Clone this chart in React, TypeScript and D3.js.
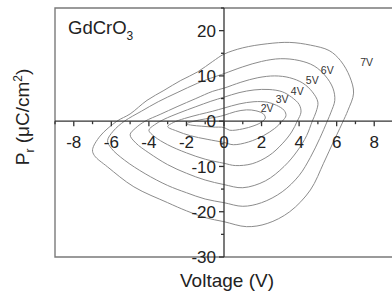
import { useEffect, useRef } from "react";
import * as d3 from "d3";

// hysteresis loops, [voltage, Pr]
const LOOP_2V: [number, number][] = [
  [-2.0, -0.6], [-1.6, 0], [-1.0, 0.5], [-0.4, 0.9], [0, 1.3], [0.6, 2.1], [1.2, 2.5], [1.7, 2.3],
  [2.1, 1.6], [2.2, 0.7], [2.0, -0.2], [1.6, -1.0], [1.0, -1.7], [0.3, -2.0], [0, -1.4],
  [-0.6, -1.3], [-1.2, -1.1], [-1.7, -0.9],
];
const LOOP_3V: [number, number][] = [
  [-3.0, -1.2], [-2.7, -0.3], [-2.1, 0.6], [-1.3, 1.5], [-0.6, 2.2], [0, 2.9], [0.8, 3.8], [1.6, 4.3],
  [2.3, 4.2], [2.8, 3.5], [3.2, 2.4], [3.3, 1.2], [3.1, 0], [2.7, -1.6], [2.1, -3.2], [1.3, -4.6],
  [0.5, -5.2], [0, -4.7], [-0.9, -4.0], [-1.8, -3.2], [-2.5, -2.2],
];
const LOOP_4V: [number, number][] = [
  [-4.0, -2.0], [-3.7, -0.8], [-3.2, 0.4], [-2.4, 1.8], [-1.5, 3.2], [-0.7, 4.4], [0, 5.3], [0.8, 6.3],
  [1.6, 6.9], [2.4, 7.0], [3.1, 6.5], [3.6, 5.3], [4.0, 3.7], [4.1, 2.0], [3.9, 0], [3.6, -2.4],
  [3.1, -5.0], [2.4, -7.6], [1.5, -9.4], [0.6, -9.8], [0, -9.3], [-1.0, -8.4], [-2.0, -7.0],
  [-3.0, -5.2], [-3.7, -3.4],
];
const LOOP_5V: [number, number][] = [
  [-5.0, -3.0], [-4.7, -1.5], [-4.2, 0], [-3.4, 1.5], [-2.5, 3.2], [-1.5, 5.0], [-0.6, 6.6], [0, 7.3],
  [0.9, 8.6], [1.8, 9.6], [2.7, 10.0], [3.5, 9.6], [4.2, 8.4], [4.7, 6.5], [5.0, 4.2], [4.9, 2.0],
  [4.7, 0], [4.4, -3.2], [3.9, -6.6], [3.2, -10.0], [2.2, -13.2], [1.0, -14.7], [0, -14.0],
  [-1.0, -13.0], [-2.0, -11.5], [-3.0, -9.6], [-4.0, -7.0], [-4.7, -4.8],
];
const LOOP_6V: [number, number][] = [
  [-6.2, -4.3], [-5.9, -2.2], [-5.3, 0], [-4.4, 2.2], [-3.5, 4.3], [-2.5, 6.3], [-1.4, 8.4], [-0.5, 9.8],
  [0, 10.5], [1.0, 12.0], [2.0, 13.2], [3.0, 13.8], [4.0, 13.4], [4.8, 12.2], [5.4, 10.0], [5.8, 7.3],
  [5.9, 4.6], [5.7, 2.0], [5.5, 0], [5.1, -3.8], [4.6, -8.0], [4.0, -12.0], [3.1, -15.6], [2.0, -18.0],
  [1.0, -18.8], [0, -18.0], [-1.0, -17.2], [-2.0, -15.8], [-3.0, -14.2], [-4.2, -11.6], [-5.3, -8.6],
  [-6.0, -6.0],
];
const LOOP_7V: [number, number][] = [
  [-7.0, -6.3], [-6.6, -3.3], [-5.7, 0], [-5.0, 1.6], [-4.1, 4.6], [-3.2, 6.8], [-2.3, 9.0], [-1.4, 10.9],
  [-0.6, 13.2], [0, 14.8], [1.0, 16.2], [2.3, 17.1], [3.5, 17.4], [4.6, 16.8], [5.6, 15.6], [6.2, 13.4],
  [6.7, 9.8], [6.9, 6.2], [6.6, 2.4], [6.3, -0.4], [5.7, -5.7], [5.3, -9.3], [4.6, -15.2], [3.5, -20.0],
  [2.3, -22.6], [1.2, -23.3], [0, -22.2], [-1.0, -21.3], [-2.0, -19.8], [-3.0, -18.0], [-4.8, -14.5],
  [-6.2, -10.1], [-6.9, -7.6],
];
const LOOPS = [LOOP_2V, LOOP_3V, LOOP_4V, LOOP_5V, LOOP_6V, LOOP_7V];

const LOOP_LABELS = ["2V", "3V", "4V", "5V", "6V", "7V"];
const LABEL_X = [2.3, 3.1, 3.9, 4.7, 5.5, 7.6];
const LABEL_Y = [2.9, 4.8, 6.6, 9.0, 11.2, 13.0];

const X_TICKS = [-8, -6, -4, -2, 0, 2, 4, 6, 8];
const X_MINOR = [-9, -7, -5, -3, -1, 1, 3, 5, 7, 9];
const Y_TICKS = [-30, -20, -10, 0, 10, 20];
const Y_MINOR = [-25, -15, -5, 5, 15, 25];

export default function App() {
  const ref = useRef<SVGSVGElement>(null);

  useEffect(() => {
    const W = 392, H = 295;
    const svg = d3.select(ref.current);
    svg.selectAll("*").remove();

    const x = d3.scaleLinear().domain([-9, 9]).range([55, 393]);
    const y = d3.scaleLinear().domain([-30, 25]).range([257, 8]);
    const font = "Arial, 'Liberation Sans', sans-serif";

    svg.append("rect").attr("width", W).attr("height", H).attr("fill", "#fff");

    // frame
    svg.append("path")
      .attr("d", `M${x(9) + 2},${y(25)}H${x(-9)}V${y(-30)}H${x(9) + 2}`)
      .attr("fill", "none").attr("stroke", "#7a7a7a").attr("stroke-width", 1.4);

    // loops
    const line = d3.line<[number, number]>()
      .x(d => x(d[0])).y(d => y(d[1]))
      .curve(d3.curveCatmullRomClosed.alpha(0.5));
    LOOPS.forEach(l => {
      svg.append("path").attr("d", line(l)!)
        .attr("fill", "none").attr("stroke", "#8c8c8c").attr("stroke-width", 1);
    });

    // zero axes
    const g = svg.append("g").attr("stroke", "#333").attr("stroke-width", 1.3);
    g.append("line").attr("x1", x(-9)).attr("x2", x(9) + 2).attr("y1", y(0)).attr("y2", y(0));
    g.append("line").attr("x1", x(0)).attr("x2", x(0)).attr("y1", y(25)).attr("y2", y(-30));
    X_TICKS.forEach(v => {
      g.append("line").attr("x1", x(v)).attr("x2", x(v)).attr("y1", y(0)).attr("y2", y(0) + 5);
    });
    X_MINOR.forEach(v => {
      g.append("line").attr("x1", x(v)).attr("x2", x(v)).attr("y1", y(0)).attr("y2", y(0) + 3);
    });
    Y_TICKS.forEach(v => {
      g.append("line").attr("x1", x(0) - 5).attr("x2", x(0)).attr("y1", y(v)).attr("y2", y(v));
    });
    Y_MINOR.forEach(v => {
      g.append("line").attr("x1", x(0) - 3).attr("x2", x(0)).attr("y1", y(v)).attr("y2", y(v));
    });

    // tick labels
    X_TICKS.forEach(v => {
      svg.append("text").attr("x", x(v)).attr("y", y(0) + 27)
        .attr("text-anchor", "middle").attr("font-family", font).attr("font-size", 17)
        .attr("fill", "#222").text(v);
    });
    Y_TICKS.forEach(v => {
      svg.append("text").attr("x", x(0) - 8).attr("y", y(v)).attr("dy", "0.36em")
        .attr("text-anchor", "end").attr("font-family", font).attr("font-size", 17)
        .attr("fill", "#222").text(v);
    });

    // loop labels
    LOOP_LABELS.forEach((s, i) => {
      svg.append("text").attr("x", x(LABEL_X[i])).attr("y", y(LABEL_Y[i])).attr("dy", "0.35em")
        .attr("text-anchor", "middle").attr("font-family", font).attr("font-size", 10.5)
        .attr("fill", "#333").text(s);
    });

    // sample name
    const t = svg.append("text").attr("x", 68).attr("y", 34)
      .attr("font-family", font).attr("font-size", 18.5).attr("fill", "#222");
    t.append("tspan").text("GdCrO");
    t.append("tspan").attr("dy", 6).attr("font-size", 12).text("3");

    // axis titles
    svg.append("text").attr("x", 227).attr("y", 287).attr("text-anchor", "middle")
      .attr("font-family", font).attr("font-size", 19).attr("fill", "#222").text("Voltage (V)");

    const yl = svg.append("text").attr("transform", "translate(29,117) rotate(-90)")
      .attr("text-anchor", "middle").attr("font-family", font).attr("font-size", 19).attr("fill", "#222");
    yl.append("tspan").text("P");
    yl.append("tspan").attr("dy", 5).attr("font-size", 12).text("r");
    yl.append("tspan").attr("dy", -5).text(" (\u03bcC/cm");
    yl.append("tspan").attr("dy", -7).attr("font-size", 12).text("2");
    yl.append("tspan").attr("dy", 7).text(")");
  }, []);

  return (
    <svg ref={ref} width={392} height={295}
      style={{ position: "absolute", left: 0, top: 0, display: "block" }} />
  );
}
